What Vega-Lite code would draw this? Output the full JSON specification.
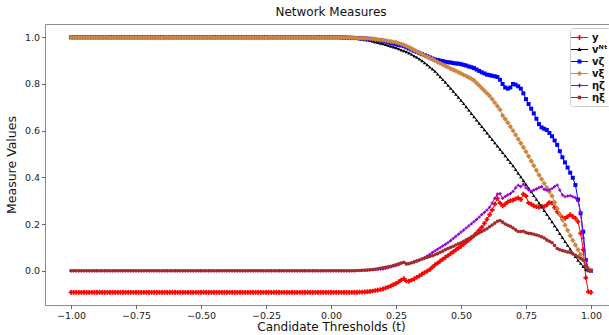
{
"$schema":"https://vega.github.io/schema/vega-lite/v6.json",
"width":572,"height":281,
"autosize":{"type":"none"},
"padding":{"left":45,"top":24,"right":0,"bottom":30},
"background":"white",
"config":{"font":"DejaVu Sans","view":{"stroke":"#8c8c8c","strokeWidth":1}},
"title":{"text":"Network Measures","fontSize":12,"fontWeight":"normal","offset":5,"color":"#111"},
"data":{"values":[
{"t":-1,"y":-0.093,"vN":1,"vz":1,"vx":1,"ez":0,"ex":0},
{"t":-0.99,"y":-0.093,"vN":1,"vz":1,"vx":1,"ez":0,"ex":0},
{"t":-0.98,"y":-0.093,"vN":1,"vz":1,"vx":1,"ez":0,"ex":0},
{"t":-0.97,"y":-0.093,"vN":1,"vz":1,"vx":1,"ez":0,"ex":0},
{"t":-0.96,"y":-0.093,"vN":1,"vz":1,"vx":1,"ez":0,"ex":0},
{"t":-0.95,"y":-0.093,"vN":1,"vz":1,"vx":1,"ez":0,"ex":0},
{"t":-0.94,"y":-0.093,"vN":1,"vz":1,"vx":1,"ez":0,"ex":0},
{"t":-0.93,"y":-0.093,"vN":1,"vz":1,"vx":1,"ez":0,"ex":0},
{"t":-0.92,"y":-0.093,"vN":1,"vz":1,"vx":1,"ez":0,"ex":0},
{"t":-0.91,"y":-0.093,"vN":1,"vz":1,"vx":1,"ez":0,"ex":0},
{"t":-0.9,"y":-0.093,"vN":1,"vz":1,"vx":1,"ez":0,"ex":0},
{"t":-0.89,"y":-0.093,"vN":1,"vz":1,"vx":1,"ez":0,"ex":0},
{"t":-0.88,"y":-0.093,"vN":1,"vz":1,"vx":1,"ez":0,"ex":0},
{"t":-0.87,"y":-0.093,"vN":1,"vz":1,"vx":1,"ez":0,"ex":0},
{"t":-0.86,"y":-0.093,"vN":1,"vz":1,"vx":1,"ez":0,"ex":0},
{"t":-0.85,"y":-0.093,"vN":1,"vz":1,"vx":1,"ez":0,"ex":0},
{"t":-0.84,"y":-0.093,"vN":1,"vz":1,"vx":1,"ez":0,"ex":0},
{"t":-0.83,"y":-0.093,"vN":1,"vz":1,"vx":1,"ez":0,"ex":0},
{"t":-0.82,"y":-0.093,"vN":1,"vz":1,"vx":1,"ez":0,"ex":0},
{"t":-0.81,"y":-0.093,"vN":1,"vz":1,"vx":1,"ez":0,"ex":0},
{"t":-0.8,"y":-0.093,"vN":1,"vz":1,"vx":1,"ez":0,"ex":0},
{"t":-0.79,"y":-0.093,"vN":1,"vz":1,"vx":1,"ez":0,"ex":0},
{"t":-0.78,"y":-0.093,"vN":1,"vz":1,"vx":1,"ez":0,"ex":0},
{"t":-0.77,"y":-0.093,"vN":1,"vz":1,"vx":1,"ez":0,"ex":0},
{"t":-0.76,"y":-0.093,"vN":1,"vz":1,"vx":1,"ez":0,"ex":0},
{"t":-0.75,"y":-0.093,"vN":1,"vz":1,"vx":1,"ez":0,"ex":0},
{"t":-0.74,"y":-0.093,"vN":1,"vz":1,"vx":1,"ez":0,"ex":0},
{"t":-0.73,"y":-0.093,"vN":1,"vz":1,"vx":1,"ez":0,"ex":0},
{"t":-0.72,"y":-0.093,"vN":1,"vz":1,"vx":1,"ez":0,"ex":0},
{"t":-0.71,"y":-0.093,"vN":1,"vz":1,"vx":1,"ez":0,"ex":0},
{"t":-0.7,"y":-0.093,"vN":1,"vz":1,"vx":1,"ez":0,"ex":0},
{"t":-0.69,"y":-0.093,"vN":1,"vz":1,"vx":1,"ez":0,"ex":0},
{"t":-0.68,"y":-0.093,"vN":1,"vz":1,"vx":1,"ez":0,"ex":0},
{"t":-0.67,"y":-0.093,"vN":1,"vz":1,"vx":1,"ez":0,"ex":0},
{"t":-0.66,"y":-0.093,"vN":1,"vz":1,"vx":1,"ez":0,"ex":0},
{"t":-0.65,"y":-0.093,"vN":1,"vz":1,"vx":1,"ez":0,"ex":0},
{"t":-0.64,"y":-0.093,"vN":1,"vz":1,"vx":1,"ez":0,"ex":0},
{"t":-0.63,"y":-0.093,"vN":1,"vz":1,"vx":1,"ez":0,"ex":0},
{"t":-0.62,"y":-0.093,"vN":1,"vz":1,"vx":1,"ez":0,"ex":0},
{"t":-0.61,"y":-0.093,"vN":1,"vz":1,"vx":1,"ez":0,"ex":0},
{"t":-0.6,"y":-0.093,"vN":1,"vz":1,"vx":1,"ez":0,"ex":0},
{"t":-0.59,"y":-0.093,"vN":1,"vz":1,"vx":1,"ez":0,"ex":0},
{"t":-0.58,"y":-0.093,"vN":1,"vz":1,"vx":1,"ez":0,"ex":0},
{"t":-0.57,"y":-0.093,"vN":1,"vz":1,"vx":1,"ez":0,"ex":0},
{"t":-0.56,"y":-0.093,"vN":1,"vz":1,"vx":1,"ez":0,"ex":0},
{"t":-0.55,"y":-0.093,"vN":1,"vz":1,"vx":1,"ez":0,"ex":0},
{"t":-0.54,"y":-0.093,"vN":1,"vz":1,"vx":1,"ez":0,"ex":0},
{"t":-0.53,"y":-0.093,"vN":1,"vz":1,"vx":1,"ez":0,"ex":0},
{"t":-0.52,"y":-0.093,"vN":1,"vz":1,"vx":1,"ez":0,"ex":0},
{"t":-0.51,"y":-0.093,"vN":1,"vz":1,"vx":1,"ez":0,"ex":0},
{"t":-0.5,"y":-0.093,"vN":1,"vz":1,"vx":1,"ez":0,"ex":0},
{"t":-0.49,"y":-0.093,"vN":1,"vz":1,"vx":1,"ez":0,"ex":0},
{"t":-0.48,"y":-0.093,"vN":1,"vz":1,"vx":1,"ez":0,"ex":0},
{"t":-0.47,"y":-0.093,"vN":1,"vz":1,"vx":1,"ez":0,"ex":0},
{"t":-0.46,"y":-0.093,"vN":1,"vz":1,"vx":1,"ez":0,"ex":0},
{"t":-0.45,"y":-0.093,"vN":1,"vz":1,"vx":1,"ez":0,"ex":0},
{"t":-0.44,"y":-0.093,"vN":1,"vz":1,"vx":1,"ez":0,"ex":0},
{"t":-0.43,"y":-0.093,"vN":1,"vz":1,"vx":1,"ez":0,"ex":0},
{"t":-0.42,"y":-0.093,"vN":1,"vz":1,"vx":1,"ez":0,"ex":0},
{"t":-0.41,"y":-0.093,"vN":1,"vz":1,"vx":1,"ez":0,"ex":0},
{"t":-0.4,"y":-0.093,"vN":1,"vz":1,"vx":1,"ez":0,"ex":0},
{"t":-0.39,"y":-0.093,"vN":1,"vz":1,"vx":1,"ez":0,"ex":0},
{"t":-0.38,"y":-0.093,"vN":1,"vz":1,"vx":1,"ez":0,"ex":0},
{"t":-0.37,"y":-0.093,"vN":1,"vz":1,"vx":1,"ez":0,"ex":0},
{"t":-0.36,"y":-0.093,"vN":1,"vz":1,"vx":1,"ez":0,"ex":0},
{"t":-0.35,"y":-0.093,"vN":1,"vz":1,"vx":1,"ez":0,"ex":0},
{"t":-0.34,"y":-0.093,"vN":1,"vz":1,"vx":1,"ez":0,"ex":0},
{"t":-0.33,"y":-0.093,"vN":1,"vz":1,"vx":1,"ez":0,"ex":0},
{"t":-0.32,"y":-0.093,"vN":1,"vz":1,"vx":1,"ez":0,"ex":0},
{"t":-0.31,"y":-0.093,"vN":1,"vz":1,"vx":1,"ez":0,"ex":0},
{"t":-0.3,"y":-0.093,"vN":1,"vz":1,"vx":1,"ez":0,"ex":0},
{"t":-0.29,"y":-0.093,"vN":1,"vz":1,"vx":1,"ez":0,"ex":0},
{"t":-0.28,"y":-0.093,"vN":1,"vz":1,"vx":1,"ez":0,"ex":0},
{"t":-0.27,"y":-0.093,"vN":1,"vz":1,"vx":1,"ez":0,"ex":0},
{"t":-0.26,"y":-0.093,"vN":1,"vz":1,"vx":1,"ez":0,"ex":0},
{"t":-0.25,"y":-0.093,"vN":1,"vz":1,"vx":1,"ez":0,"ex":0},
{"t":-0.24,"y":-0.093,"vN":1,"vz":1,"vx":1,"ez":0,"ex":0},
{"t":-0.23,"y":-0.093,"vN":1,"vz":1,"vx":1,"ez":0,"ex":0},
{"t":-0.22,"y":-0.093,"vN":1,"vz":1,"vx":1,"ez":0,"ex":0},
{"t":-0.21,"y":-0.093,"vN":1,"vz":1,"vx":1,"ez":0,"ex":0},
{"t":-0.2,"y":-0.093,"vN":1,"vz":1,"vx":1,"ez":0,"ex":0},
{"t":-0.19,"y":-0.093,"vN":1,"vz":1,"vx":1,"ez":0,"ex":0},
{"t":-0.18,"y":-0.093,"vN":1,"vz":1,"vx":1,"ez":0,"ex":0},
{"t":-0.17,"y":-0.093,"vN":1,"vz":1,"vx":1,"ez":0,"ex":0},
{"t":-0.16,"y":-0.093,"vN":1,"vz":1,"vx":1,"ez":0,"ex":0},
{"t":-0.15,"y":-0.093,"vN":1,"vz":1,"vx":1,"ez":0,"ex":0},
{"t":-0.14,"y":-0.093,"vN":1,"vz":1,"vx":1,"ez":0,"ex":0},
{"t":-0.13,"y":-0.093,"vN":1,"vz":1,"vx":1,"ez":0,"ex":0},
{"t":-0.12,"y":-0.093,"vN":1,"vz":1,"vx":1,"ez":0,"ex":0},
{"t":-0.11,"y":-0.093,"vN":1,"vz":1,"vx":1,"ez":0,"ex":0},
{"t":-0.1,"y":-0.093,"vN":1,"vz":1,"vx":1,"ez":0,"ex":0},
{"t":-0.09,"y":-0.093,"vN":1,"vz":1,"vx":1,"ez":0,"ex":0},
{"t":-0.08,"y":-0.093,"vN":1,"vz":1,"vx":1,"ez":0,"ex":0},
{"t":-0.07,"y":-0.093,"vN":1,"vz":1,"vx":1,"ez":0,"ex":0},
{"t":-0.06,"y":-0.093,"vN":1,"vz":1,"vx":1,"ez":0,"ex":0},
{"t":-0.05,"y":-0.093,"vN":1,"vz":1,"vx":1,"ez":0,"ex":0},
{"t":-0.04,"y":-0.093,"vN":1,"vz":1,"vx":1,"ez":0,"ex":0},
{"t":-0.03,"y":-0.093,"vN":1,"vz":1,"vx":1,"ez":0,"ex":0},
{"t":-0.02,"y":-0.093,"vN":1,"vz":1,"vx":1,"ez":0,"ex":0},
{"t":-0.01,"y":-0.093,"vN":1,"vz":1,"vx":1,"ez":0,"ex":0},
{"t":0,"y":-0.093,"vN":1,"vz":1,"vx":1,"ez":0,"ex":0},
{"t":0.01,"y":-0.093,"vN":1,"vz":1,"vx":1,"ez":0,"ex":0},
{"t":0.02,"y":-0.093,"vN":1,"vz":1,"vx":1,"ez":0,"ex":0},
{"t":0.03,"y":-0.093,"vN":0.999,"vz":1,"vx":1,"ez":0,"ex":0},
{"t":0.04,"y":-0.093,"vN":0.999,"vz":0.999,"vx":0.999,"ez":0,"ex":0},
{"t":0.05,"y":-0.093,"vN":0.999,"vz":0.999,"vx":0.999,"ez":0,"ex":0},
{"t":0.06,"y":-0.093,"vN":0.998,"vz":0.999,"vx":0.999,"ez":0,"ex":0},
{"t":0.07,"y":-0.093,"vN":0.997,"vz":0.998,"vx":0.998,"ez":0,"ex":0},
{"t":0.08,"y":-0.093,"vN":0.997,"vz":0.998,"vx":0.998,"ez":0,"ex":0},
{"t":0.09,"y":-0.093,"vN":0.996,"vz":0.997,"vx":0.997,"ez":0,"ex":0},
{"t":0.1,"y":-0.093,"vN":0.995,"vz":0.997,"vx":0.997,"ez":0.001,"ex":0.001},
{"t":0.11,"y":-0.092,"vN":0.993,"vz":0.996,"vx":0.996,"ez":0.001,"ex":0.001},
{"t":0.12,"y":-0.092,"vN":0.991,"vz":0.995,"vx":0.996,"ez":0.001,"ex":0.002},
{"t":0.13,"y":-0.091,"vN":0.99,"vz":0.995,"vx":0.995,"ez":0.002,"ex":0.002},
{"t":0.14,"y":-0.09,"vN":0.988,"vz":0.994,"vx":0.995,"ez":0.002,"ex":0.003},
{"t":0.15,"y":-0.089,"vN":0.986,"vz":0.993,"vx":0.994,"ez":0.003,"ex":0.004},
{"t":0.16,"y":-0.087,"vN":0.983,"vz":0.991,"vx":0.993,"ez":0.004,"ex":0.005},
{"t":0.17,"y":-0.085,"vN":0.98,"vz":0.99,"vx":0.992,"ez":0.005,"ex":0.006},
{"t":0.18,"y":-0.083,"vN":0.978,"vz":0.988,"vx":0.99,"ez":0.006,"ex":0.008},
{"t":0.19,"y":-0.081,"vN":0.975,"vz":0.987,"vx":0.989,"ez":0.007,"ex":0.01},
{"t":0.2,"y":-0.078,"vN":0.972,"vz":0.985,"vx":0.988,"ez":0.008,"ex":0.012},
{"t":0.21,"y":-0.074,"vN":0.969,"vz":0.982,"vx":0.986,"ez":0.01,"ex":0.014},
{"t":0.22,"y":-0.07,"vN":0.965,"vz":0.979,"vx":0.984,"ez":0.013,"ex":0.017},
{"t":0.23,"y":-0.065,"vN":0.962,"vz":0.976,"vx":0.982,"ez":0.016,"ex":0.019},
{"t":0.24,"y":-0.06,"vN":0.958,"vz":0.973,"vx":0.98,"ez":0.019,"ex":0.022},
{"t":0.25,"y":-0.055,"vN":0.955,"vz":0.97,"vx":0.978,"ez":0.022,"ex":0.025},
{"t":0.26,"y":-0.048,"vN":0.951,"vz":0.967,"vx":0.974,"ez":0.026,"ex":0.029},
{"t":0.27,"y":-0.04,"vN":0.946,"vz":0.965,"vx":0.971,"ez":0.031,"ex":0.033},
{"t":0.28,"y":-0.034,"vN":0.942,"vz":0.962,"vx":0.967,"ez":0.035,"ex":0.036},
{"t":0.29,"y":-0.044,"vN":0.938,"vz":0.957,"vx":0.962,"ez":0.03,"ex":0.029},
{"t":0.3,"y":-0.045,"vN":0.933,"vz":0.952,"vx":0.957,"ez":0.031,"ex":0.03},
{"t":0.31,"y":-0.04,"vN":0.927,"vz":0.947,"vx":0.951,"ez":0.034,"ex":0.034},
{"t":0.32,"y":-0.035,"vN":0.92,"vz":0.942,"vx":0.945,"ez":0.037,"ex":0.038},
{"t":0.33,"y":-0.028,"vN":0.914,"vz":0.937,"vx":0.939,"ez":0.041,"ex":0.042},
{"t":0.34,"y":-0.022,"vN":0.907,"vz":0.932,"vx":0.933,"ez":0.045,"ex":0.046},
{"t":0.35,"y":-0.015,"vN":0.9,"vz":0.928,"vx":0.928,"ez":0.05,"ex":0.05},
{"t":0.36,"y":-0.008,"vN":0.891,"vz":0.924,"vx":0.922,"ez":0.056,"ex":0.054},
{"t":0.37,"y":-0.002,"vN":0.882,"vz":0.919,"vx":0.917,"ez":0.063,"ex":0.057},
{"t":0.38,"y":0.005,"vN":0.873,"vz":0.914,"vx":0.911,"ez":0.07,"ex":0.061},
{"t":0.39,"y":0.015,"vN":0.864,"vz":0.909,"vx":0.906,"ez":0.078,"ex":0.064},
{"t":0.4,"y":0.025,"vN":0.855,"vz":0.905,"vx":0.9,"ez":0.085,"ex":0.068},
{"t":0.41,"y":0.033,"vN":0.843,"vz":0.903,"vx":0.894,"ez":0.092,"ex":0.073},
{"t":0.42,"y":0.041,"vN":0.831,"vz":0.9,"vx":0.888,"ez":0.099,"ex":0.079},
{"t":0.43,"y":0.049,"vN":0.819,"vz":0.898,"vx":0.883,"ez":0.106,"ex":0.084},
{"t":0.44,"y":0.057,"vN":0.807,"vz":0.895,"vx":0.877,"ez":0.113,"ex":0.09},
{"t":0.45,"y":0.065,"vN":0.795,"vz":0.893,"vx":0.872,"ez":0.12,"ex":0.095},
{"t":0.46,"y":0.073,"vN":0.782,"vz":0.892,"vx":0.866,"ez":0.129,"ex":0.1},
{"t":0.47,"y":0.081,"vN":0.769,"vz":0.89,"vx":0.861,"ez":0.138,"ex":0.105},
{"t":0.48,"y":0.089,"vN":0.756,"vz":0.888,"vx":0.856,"ez":0.147,"ex":0.11},
{"t":0.49,"y":0.097,"vN":0.743,"vz":0.887,"vx":0.85,"ez":0.156,"ex":0.115},
{"t":0.5,"y":0.105,"vN":0.73,"vz":0.885,"vx":0.845,"ez":0.165,"ex":0.12},
{"t":0.51,"y":0.114,"vN":0.716,"vz":0.882,"vx":0.839,"ez":0.174,"ex":0.126},
{"t":0.52,"y":0.123,"vN":0.702,"vz":0.879,"vx":0.834,"ez":0.183,"ex":0.132},
{"t":0.53,"y":0.132,"vN":0.688,"vz":0.875,"vx":0.828,"ez":0.192,"ex":0.138},
{"t":0.54,"y":0.141,"vN":0.674,"vz":0.872,"vx":0.822,"ez":0.201,"ex":0.144},
{"t":0.55,"y":0.15,"vN":0.66,"vz":0.868,"vx":0.815,"ez":0.21,"ex":0.15},
{"t":0.56,"y":0.162,"vN":0.646,"vz":0.862,"vx":0.804,"ez":0.22,"ex":0.156},
{"t":0.57,"y":0.174,"vN":0.632,"vz":0.856,"vx":0.793,"ez":0.23,"ex":0.162},
{"t":0.58,"y":0.186,"vN":0.618,"vz":0.85,"vx":0.782,"ez":0.24,"ex":0.168},
{"t":0.59,"y":0.203,"vN":0.604,"vz":0.845,"vx":0.771,"ez":0.25,"ex":0.174},
{"t":0.6,"y":0.22,"vN":0.59,"vz":0.84,"vx":0.76,"ez":0.26,"ex":0.18},
{"t":0.61,"y":0.24,"vN":0.576,"vz":0.838,"vx":0.749,"ez":0.272,"ex":0.188},
{"t":0.62,"y":0.26,"vN":0.562,"vz":0.835,"vx":0.735,"ez":0.29,"ex":0.196},
{"t":0.63,"y":0.285,"vN":0.548,"vz":0.833,"vx":0.72,"ez":0.31,"ex":0.204},
{"t":0.64,"y":0.31,"vN":0.534,"vz":0.83,"vx":0.705,"ez":0.328,"ex":0.212},
{"t":0.65,"y":0.29,"vN":0.52,"vz":0.818,"vx":0.69,"ez":0.33,"ex":0.215},
{"t":0.66,"y":0.278,"vN":0.506,"vz":0.8,"vx":0.665,"ez":0.31,"ex":0.208},
{"t":0.67,"y":0.285,"vN":0.492,"vz":0.785,"vx":0.65,"ez":0.318,"ex":0.2},
{"t":0.68,"y":0.295,"vN":0.478,"vz":0.78,"vx":0.634,"ez":0.325,"ex":0.195},
{"t":0.69,"y":0.3,"vN":0.464,"vz":0.785,"vx":0.617,"ez":0.33,"ex":0.19},
{"t":0.7,"y":0.302,"vN":0.45,"vz":0.8,"vx":0.6,"ez":0.34,"ex":0.183},
{"t":0.71,"y":0.308,"vN":0.434,"vz":0.797,"vx":0.582,"ez":0.355,"ex":0.175},
{"t":0.72,"y":0.312,"vN":0.418,"vz":0.79,"vx":0.564,"ez":0.366,"ex":0.168},
{"t":0.73,"y":0.305,"vN":0.402,"vz":0.78,"vx":0.546,"ez":0.36,"ex":0.168},
{"t":0.74,"y":0.328,"vN":0.386,"vz":0.76,"vx":0.528,"ez":0.371,"ex":0.169},
{"t":0.75,"y":0.32,"vN":0.37,"vz":0.735,"vx":0.51,"ez":0.355,"ex":0.163},
{"t":0.76,"y":0.29,"vN":0.354,"vz":0.714,"vx":0.49,"ez":0.346,"ex":0.16},
{"t":0.77,"y":0.285,"vN":0.338,"vz":0.694,"vx":0.47,"ez":0.34,"ex":0.159},
{"t":0.78,"y":0.278,"vN":0.322,"vz":0.674,"vx":0.45,"ez":0.345,"ex":0.156},
{"t":0.79,"y":0.274,"vN":0.306,"vz":0.651,"vx":0.43,"ez":0.35,"ex":0.153},
{"t":0.8,"y":0.272,"vN":0.29,"vz":0.628,"vx":0.41,"ez":0.356,"ex":0.15},
{"t":0.81,"y":0.276,"vN":0.274,"vz":0.614,"vx":0.392,"ez":0.36,"ex":0.145},
{"t":0.82,"y":0.275,"vN":0.258,"vz":0.608,"vx":0.374,"ez":0.348,"ex":0.14},
{"t":0.83,"y":0.282,"vN":0.242,"vz":0.603,"vx":0.356,"ez":0.345,"ex":0.132},
{"t":0.84,"y":0.292,"vN":0.226,"vz":0.59,"vx":0.338,"ez":0.346,"ex":0.126},
{"t":0.85,"y":0.29,"vN":0.21,"vz":0.576,"vx":0.32,"ez":0.352,"ex":0.12},
{"t":0.86,"y":0.27,"vN":0.193,"vz":0.558,"vx":0.293,"ez":0.36,"ex":0.108},
{"t":0.87,"y":0.253,"vN":0.176,"vz":0.539,"vx":0.267,"ez":0.367,"ex":0.095},
{"t":0.88,"y":0.24,"vN":0.159,"vz":0.512,"vx":0.24,"ez":0.345,"ex":0.09},
{"t":0.89,"y":0.228,"vN":0.142,"vz":0.486,"vx":0.218,"ez":0.325,"ex":0.086},
{"t":0.9,"y":0.224,"vN":0.125,"vz":0.464,"vx":0.195,"ez":0.317,"ex":0.083},
{"t":0.91,"y":0.232,"vN":0.109,"vz":0.442,"vx":0.173,"ez":0.32,"ex":0.08},
{"t":0.92,"y":0.24,"vN":0.093,"vz":0.42,"vx":0.15,"ez":0.322,"ex":0.078},
{"t":0.93,"y":0.232,"vN":0.077,"vz":0.398,"vx":0.13,"ez":0.317,"ex":0.072},
{"t":0.94,"y":0.224,"vN":0.061,"vz":0.367,"vx":0.11,"ez":0.312,"ex":0.066},
{"t":0.95,"y":0.21,"vN":0.045,"vz":0.305,"vx":0.09,"ez":0.3,"ex":0.06},
{"t":0.96,"y":0.16,"vN":0.032,"vz":0.246,"vx":0.07,"ez":0.25,"ex":0.052},
{"t":0.97,"y":0.09,"vN":0.018,"vz":0.167,"vx":0.05,"ez":0.14,"ex":0.045},
{"t":0.98,"y":-0.03,"vN":0.005,"vz":0.046,"vx":0.03,"ez":0.046,"ex":0.02},
{"t":0.99,"y":-0.09,"vN":0,"vz":0.003,"vx":0.01,"ez":0.005,"ex":0.002},
{"t":1,"y":-0.093,"vN":0,"vz":0,"vx":0,"ez":0,"ex":0}
]},
"transform":[{"fold":["y","vN","vz","vx","ez","ex"],"as":["key","value"]}],
"encoding":{
"x":{"field":"t","type":"quantitative","scale":{"domain":[-1.1,1.1],"nice":false,"zero":false},
"axis":{"title":"Candidate Thresholds (t)","values":[-1,-0.75,-0.5,-0.25,0,0.25,0.5,0.75,1],"format":".2f","grid":false,"domain":false,"tickColor":"#666","tickSize":3.5,"labelFontSize":9.5,"labelColor":"#222","labelPadding":2,"labelFlush":false,"labelOverlap":false,"titleFontSize":12,"titleFontWeight":"normal","titleColor":"#111","titlePadding":1}},
"y":{"field":"value","type":"quantitative","scale":{"domain":[-0.147,1.057],"nice":false,"zero":false},
"axis":{"title":"Measure Values","values":[0,0.2,0.4,0.6,0.8,1],"format":".1f","grid":false,"domain":false,"tickColor":"#666","tickSize":3.5,"labelFontSize":9.5,"labelColor":"#222","labelPadding":2,"labelFlush":false,"labelOverlap":false,"titleFontSize":12.5,"titleFontWeight":"normal","titleColor":"#111","titlePadding":6}}
},
"layer":[
{"transform":[{"filter":"datum.key==='y'"}],"mark":{"type":"line","color":"#ff0000","strokeWidth":1,"point":{"shape":"cross","size":22,"filled":true,"color":"#ff0000","opacity":1}}},
{"transform":[{"filter":"datum.key==='vN'"}],"mark":{"type":"line","color":"#000000","strokeWidth":1,"point":{"shape":"triangle-up","size":12,"filled":true,"color":"#000000","opacity":1}}},
{"transform":[{"filter":"datum.key==='vz'"}],"mark":{"type":"line","color":"#0000ff","strokeWidth":1,"point":{"shape":"square","size":16,"filled":true,"color":"#0000ff","opacity":1}}},
{"transform":[{"filter":"datum.key==='vx'"}],"mark":{"type":"line","color":"#cd853f","strokeWidth":1,"point":{"shape":"diamond","size":28,"filled":true,"color":"#cd853f","opacity":1}}},
{"transform":[{"filter":"datum.key==='ez'"}],"mark":{"type":"line","color":"#9400d3","strokeWidth":1,"point":{"shape":"cross","size":10,"filled":true,"color":"#9400d3","opacity":1}}},
{"transform":[{"filter":"datum.key==='ex'"}],"mark":{"type":"line","color":"#a52a2a","strokeWidth":1,"point":{"shape":"circle","size":13,"filled":true,"color":"#a52a2a","opacity":1}}},
{"transform":[{"filter":"false"}],"mark":{"type":"point","filled":true,"opacity":1},
"encoding":{
"color":{"field":"key","type":"nominal","scale":{"domain":["y","vᴺᵗ","vζ","vξ","ηζ","ηξ"],"range":["#ff0000","#000000","#0000ff","#cd853f","#9400d3","#a52a2a"]},
"legend":{"orient":"none","legendX":525,"legendY":4,"title":null,"fillColor":"white","strokeColor":"#cccccc","cornerRadius":3,"padding":3,"symbolSize":169,"symbolStrokeWidth":0,"labelFontWeight":"bold","labelFontSize":10,"labelColor":"#111","labelOffset":6,"rowPadding":0}},
"shape":{"field":"key","type":"nominal","scale":{"domain":["y","vᴺᵗ","vζ","vξ","ηζ","ηξ"],"range":[
"M-1.3,-0.08H1.3V0.08H-1.3ZM-0.38,-0.12H-0.12V-0.38H0.12V-0.12H0.38V0.12H0.12V0.38H-0.12V0.12H-0.38Z",
"M-1.3,-0.08H1.3V0.08H-1.3ZM0,-0.34L0.32,0.24H-0.32Z",
"M-1.3,-0.08H1.3V0.08H-1.3ZM-0.3,-0.3H0.3V0.3H-0.3Z",
"M-1.3,-0.08H1.3V0.08H-1.3ZM0,-0.4L0.4,0L0,0.4L-0.4,0Z",
"M-1.3,-0.08H1.3V0.08H-1.3ZM-0.3,-0.1H-0.1V-0.3H0.1V-0.1H0.3V0.1H0.1V0.3H-0.1V0.1H-0.3Z",
"M-1.3,-0.08H1.3V0.08H-1.3ZM-0.3,0A0.3,0.3 0 1,1 0.3,0A0.3,0.3 0 1,1 -0.3,0Z"]},
"legend":{"orient":"none","legendX":525,"legendY":4,"title":null,"fillColor":"white","strokeColor":"#cccccc","cornerRadius":3,"padding":3,"symbolSize":169,"symbolStrokeWidth":0,"labelFontWeight":"bold","labelFontSize":10,"labelColor":"#111","labelOffset":6,"rowPadding":0}}
}}
]
}
